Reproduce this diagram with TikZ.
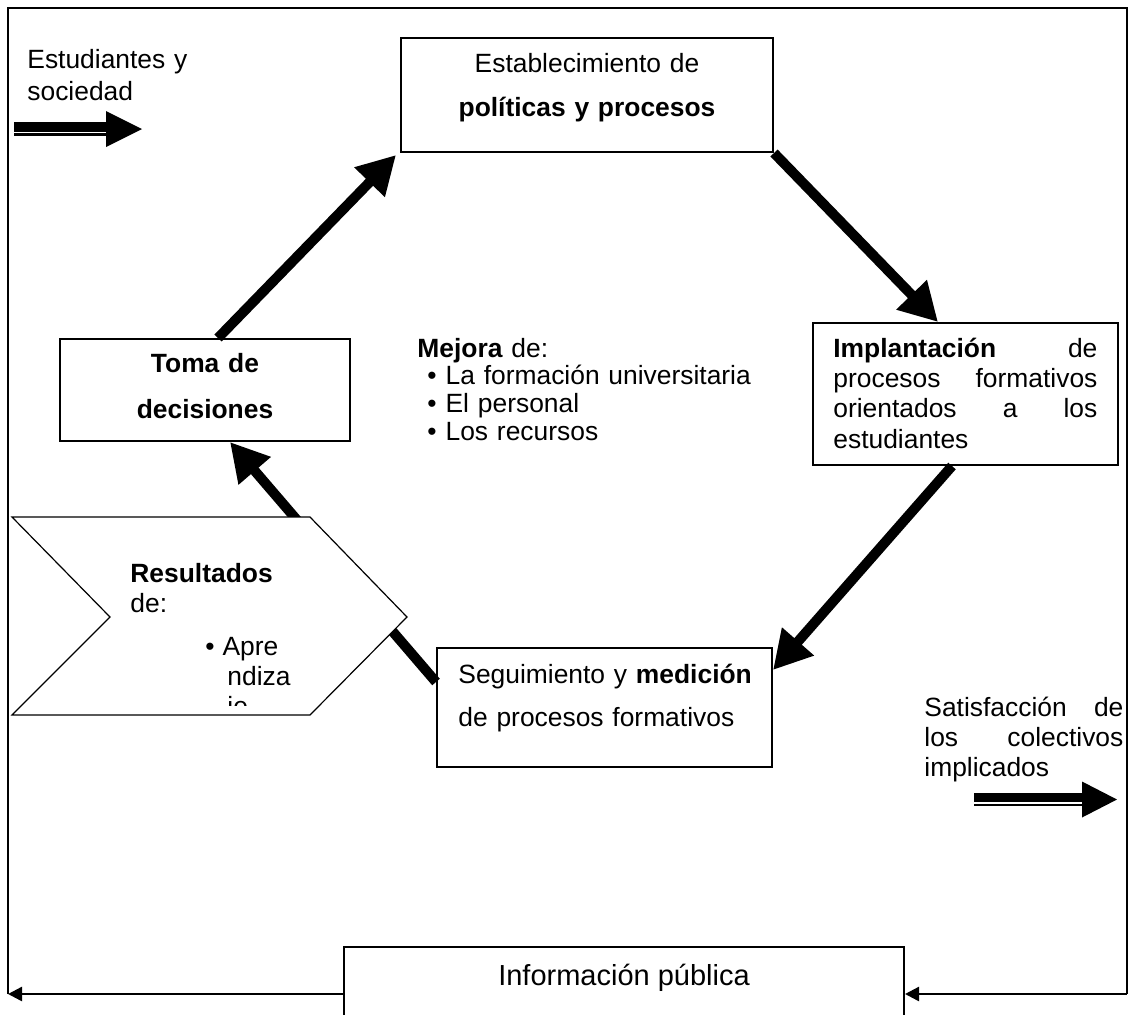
\documentclass[tikz,border=0pt]{standalone}
\usepackage{fontspec}
\setmainfont{Liberation Sans}
\usetikzlibrary{arrows.meta}

% x inicial, x base de la punta, x punta, y centro
\newcommand{\dobleflecha}[4]{%
	\fill (#1,#4-7) rectangle (#2,#4+2.5);
	\fill (#1,#4+4) rectangle (#2,#4+6.5);
	\fill (#2,#4-18) -- (#3,#4) -- (#2,#4+18) -- cycle;}

\begin{document}
\begin{tikzpicture}[x=0.5pt,y=-0.5pt]
		\tikzstyle{every node}+=[inner sep=0pt, font=\fontsize{13.2}{15.2}\selectfont]
		\tikzstyle{caja}=[draw, line width=1pt, fill=white]
		\tikzstyle{flecha}=[line width=5pt, -{Triangle[length=19pt,width=20pt]}]
		\tikzstyle{flechafina}=[line width=1.2pt, -{Triangle[length=7pt,width=7pt]}]
		\useasboundingbox (0,0) rectangle (1131,1014);
		\clip (0,0) rectangle (1131,1014);
		% marco exterior
		\coordinate (esqder) at (1127,994);
		\coordinate (esqizq) at (8,994);
		\draw [line width=1pt] (esqizq) -- (8,8) -- (1127,8) -- (esqder);
		% cajas
		\node [caja, minimum width=186pt, minimum height=57pt] (politicas) at (587,95) {};
		\node [caja, minimum width=152.5pt, minimum height=71pt] (implantacion) at (965.5,394) {};
		\node [caja, minimum width=167.5pt, minimum height=59.5pt] (seguimiento) at (604.5,707.5) {};
		\node [caja, minimum width=145pt, minimum height=51pt] (toma) at (205,390) {};
		\node [caja, minimum width=280pt, minimum height=47pt] (info) at (624,994) {};
		% ciclo
		\draw [flecha] ([xshift=6.5pt]toma.north) -- ([xshift=-2pt,yshift=-1pt]politicas.south west);
		\draw [flecha] (politicas.south east) -- ([xshift=-13.75pt]implantacion.north);
		\draw [flecha] ([xshift=-6.75pt]implantacion.south) -- ([yshift=18.75pt]seguimiento.east);
		\draw [flecha] ([yshift=12.75pt]seguimiento.west) -- ([xshift=12.5pt]toma.south);
		% resultados
		\draw [line width=0.6pt, fill=white] (12,517) -- (310,517) -- (407,617) -- (310,715) -- (12,715) -- (110,617) -- cycle;
		\begin{scope}
			\clip (0,0) rectangle (1131,705);
			\node [anchor=base west, text width=120pt, font=\fontsize{13.2}{15}\selectfont] (tresultados) at (130,582) {\textbf{Resultados}\\de:\\[6.5pt]\hspace*{37.5pt}\textbullet\hspace{4pt}Apre\\\hspace*{48.5pt}ndiza\\\hspace*{48.5pt}je};
		\end{scope}
		% textos
		\node [anchor=base west, text width=100pt, font=\fontsize{13.2}{16}\selectfont] (testudiantes) at (27,68) {Estudiantes y\\sociedad};
		\node [anchor=base, text width=180pt, align=center, font=\fontsize{13.2}{22}\selectfont] (tpoliticas) at (587,72) {Establecimiento de\\\textbf{políticas y procesos}};
		\node [anchor=base west, text width=132pt] (timplantacion) at (833,357) {\textbf{Implantación}\hfill de\\procesos\hfill formativos\\orientados\hfill a\hfill los\\estudiantes};
		\node [anchor=base west, text width=200pt, font=\fontsize{13.2}{13.9}\selectfont] (tmejora) at (417,357) {\textbf{Mejora} de:\\\hspace*{5pt}\textbullet\hspace{4.5pt}La formación universitaria\\\hspace*{5pt}\textbullet\hspace{4.5pt}El personal\\\hspace*{5pt}\textbullet\hspace{4.5pt}Los recursos};
		\node [anchor=base, text width=140pt, align=center, font=\bfseries\fontsize{13.2}{23}\selectfont] (ttoma) at (205,372) {Toma de\\decisiones};
		\node [anchor=base west, text width=160pt, font=\fontsize{13.2}{21.5}\selectfont] (tseguimiento) at (458,683) {Seguimiento y \textbf{medición}\\de procesos formativos};
		\node [anchor=base west, text width=99.5pt] (tsatisfaccion) at (924,716) {Satisfacción\hfill de\\los\hfill colectivos\\implicados};
		\node [anchor=base, font=\fontsize{14.5}{17}\selectfont] (tinfo) at (624,985) {Información pública};
		% entradas y salidas
		\dobleflecha{14}{106}{142}{129}
		\dobleflecha{974}{1082}{1117}{799.5}
		\draw [flechafina] (esqder) -- (info.east);
		\draw [flechafina] (info.west) -- (esqizq);
	\end{tikzpicture}
\end{document}
